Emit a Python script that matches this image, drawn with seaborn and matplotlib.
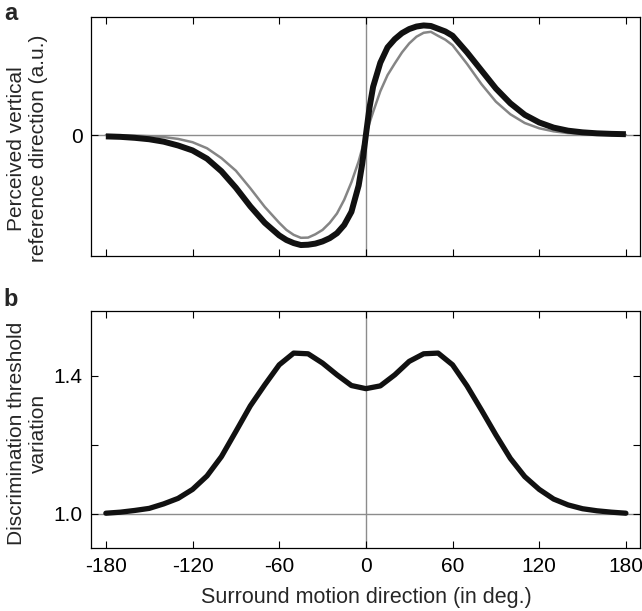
import numpy as np
import pandas as pd
import seaborn as sns
import matplotlib
matplotlib.use("Agg")
import matplotlib.pyplot as plt

# panel a: perceived vertical reference direction (a.u.)
angle_a = [-180, -170, -160, -150, -140, -130, -120, -110, -100, -90, -80, -70,
           -60, -55, -50, -45, -40, -35, -30, -25, -20, -15, -10, -5, -2.5, 0,
           2.5, 5, 10, 15, 20, 25, 30, 35, 40, 45, 50, 55, 60,
           70, 80, 90, 100, 110, 120, 130, 140, 150, 160, 170, 180]
black_a = [-0.012, -0.016, -0.025, -0.038, -0.06, -0.095, -0.14, -0.215, -0.33, -0.48, -0.65, -0.8,
           -0.915, -0.957, -0.985, -1.003, -1.0, -0.99, -0.97, -0.94, -0.895, -0.82, -0.7, -0.46, -0.26, 0.0,
           0.25, 0.44, 0.66, 0.8, 0.875, 0.93, 0.967, 0.99, 1.0, 0.995, 0.97, 0.945, 0.906,
           0.755, 0.59, 0.425, 0.29, 0.185, 0.115, 0.068, 0.04, 0.025, 0.016, 0.011, 0.008]
gray_a = [0.0, -0.002, -0.005, -0.01, -0.018, -0.035, -0.065, -0.12, -0.21, -0.325, -0.485, -0.655,
          -0.8, -0.865, -0.91, -0.937, -0.935, -0.905, -0.865, -0.8, -0.715, -0.59, -0.43, -0.24, -0.12, 0.0,
          0.11, 0.21, 0.4, 0.547, 0.653, 0.754, 0.836, 0.897, 0.933, 0.942, 0.905, 0.87, 0.82,
          0.65, 0.465, 0.305, 0.19, 0.11, 0.062, 0.034, 0.018, 0.01, 0.005, 0.003, 0.002]

# panel b: discrimination threshold variation
angle_b = list(range(-180, 181, 10))
thresh_b = [1.002, 1.005, 1.01, 1.016, 1.029, 1.045, 1.071, 1.11, 1.166, 1.239, 1.313, 1.374,
            1.432, 1.466, 1.464, 1.437, 1.403, 1.372, 1.363, 1.371, 1.403, 1.442, 1.464, 1.466,
            1.432, 1.371, 1.301, 1.229, 1.161, 1.108, 1.071, 1.043, 1.026, 1.015, 1.009, 1.005, 1.002]

x_ticks = [-180, -120, -60, 0, 60, 120, 180]

sns.set_theme(style="white")
plt.rcParams['font.family'] = ['Liberation Sans', 'DejaVu Sans']

df_a = pd.DataFrame({'angle': angle_a, 'black': black_a, 'gray': gray_a})
df_b = pd.DataFrame({'angle': angle_b, 'thresh': thresh_b})

fig = plt.figure(figsize=(6.42, 6.11), dpi=100)
ax_a = fig.add_axes([0.1424, 0.581, 0.855, 0.391])
ax_b = fig.add_axes([0.1424, 0.103, 0.855, 0.388])

ref_color = '#8c8c8c'


def style_axes(ax):
    for sp in ax.spines.values():
        sp.set_color('black')
        sp.set_linewidth(0.9)
    ax.tick_params(direction='in', bottom=True, left=True, top=True, right=True,
                   length=5, width=0.8, colors='black', labelsize=15, pad=6.5)
    ax.set_xlim(-190, 190)
    ax.set_xticks(x_ticks)


# panel a
ax_a.axhline(0, color=ref_color, lw=1.0, zorder=0)
ax_a.axvline(0, color=ref_color, lw=1.0, zorder=0)
sns.lineplot(data=df_a, x='angle', y='gray', ax=ax_a, color='#858585', lw=1.8, sort=False)
sns.lineplot(data=df_a, x='angle', y='black', ax=ax_a, color='#111111', lw=4.3, sort=False,
             solid_capstyle='butt')
style_axes(ax_a)
ax_a.set_ylim(-1.103, 1.076)
ax_a.set_yticks([0])
ax_a.set_yticklabels(['0'])
ax_a.set_xticklabels([])
ax_a.set_xlabel('')
ax_a.set_ylabel('Perceived vertical\nreference direction (a.u.)', fontsize=15, linespacing=1.2)
ax_a.yaxis.set_label_coords(-0.08, 0.45)

# panel b
ax_b.axhline(1.0, color=ref_color, lw=1.0, zorder=0)
ax_b.axvline(0, color=ref_color, lw=1.0, zorder=0)
sns.lineplot(data=df_b, x='angle', y='thresh', ax=ax_b, color='#111111', lw=3.8, sort=False,
             solid_joinstyle='round', solid_capstyle='round')
style_axes(ax_b)
ax_b.set_ylim(0.901, 1.588)
ax_b.set_yticks([1.0, 1.2, 1.4])
ax_b.set_yticklabels(['1.0', '', '1.4'])
ax_b.set_xticklabels([str(t) for t in x_ticks])
ax_b.set_xlabel('Surround motion direction (in deg.)', fontsize=15.5, labelpad=8)
ax_b.set_ylabel('Discrimination threshold\nvariation', fontsize=15, linespacing=1.2)
ax_b.yaxis.set_label_coords(-0.08, 0.485)

fig.text(0.006, 0.978, 'a', fontsize=17, fontweight='bold', va='center')
fig.text(0.006, 0.510, 'b', fontsize=17, fontweight='bold', va='center')

fig.savefig('out.png', dpi=100)
